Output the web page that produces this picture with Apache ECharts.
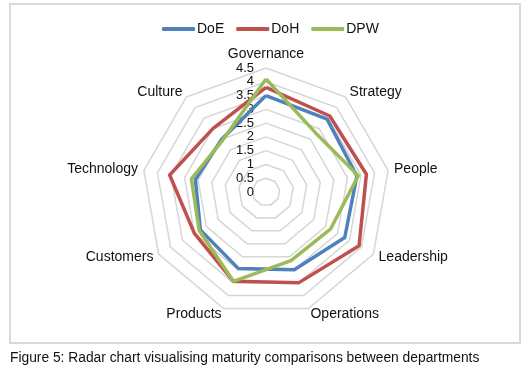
<!DOCTYPE html>
<html>
<head>
<meta charset="utf-8">
<script src="https://cdn.jsdelivr.net/npm/echarts@6/dist/echarts.min.js"></script>
<style>
  html, body { margin: 0; padding: 0; background: #fff; }
  #chart { width: 531px; height: 376px; }
</style>
</head>
<body>
<div id="chart"></div>
<script>
// values read clockwise from the top of the figure
const indicators = ["Governance", "Strategy", "People", "Leadership", "Operations", "Products", "Customers", "Technology", "Culture"];
const doe = [3.5, 3.45, 3.35, 3.3, 3.0, 2.95, 2.75, 2.6, 2.5];
const doh = [3.8, 3.6, 3.7, 3.9, 3.5, 3.45, 3.0, 3.55, 3.0];
const dpw = [4.1, 2.8, 3.4, 2.7, 2.65, 3.45, 2.8, 2.75, 2.45];
const seriesNames = ["DoE", "DoH", "DPW"];
const colors = ["#4f81bd", "#c0504d", "#9bbb59"];
const axisMax = 4.5;
const caption = "Figure 5: Radar chart visualising maturity comparisons between departments";

const font = 'Arial, "Liberation Sans", sans-serif';

// echarts places radar axes counter-clockwise, the figure runs clockwise
const ccw = arr => [arr[0]].concat(arr.slice(1).reverse());

const chart = echarts.init(document.getElementById("chart"));

chart.setOption({
  backgroundColor: "#fff",
  animation: false,
  title: {
    text: caption,
    left: 10,
    top: 351,
    padding: 0,
    textStyle: { fontFamily: font, fontSize: 13.8, fontWeight: "normal", color: "#111" },
  },
  graphic: [{
    type: "rect",
    shape: { x: 10, y: 4, width: 510, height: 339 },
    style: { fill: "none", stroke: "#d9d9d9", lineWidth: 2 },
    silent: true,
  }],
  legend: {
    data: seriesNames,
    top: 17,
    left: 157,
    icon: "roundRect",
    itemWidth: 33,
    itemHeight: 4,
    itemGap: 12,
    textStyle: { fontFamily: font, fontSize: 14, color: "#111", padding: [0, 0, 0, -3] },
  },
  radar: {
    center: [266, 192],
    radius: 124,
    startAngle: 90,
    shape: "polygon",
    splitNumber: 9,
    nameGap: 6,
    axisName: { fontFamily: font, fontSize: 14, color: "#111" },
    axisLine: { show: false },
    axisTick: { show: false },
    axisLabel: { show: false },
    splitArea: { show: false },
    splitLine: { lineStyle: { color: "#d6d6d6", width: 1.5 } },
    indicator: ccw(indicators).map((name, i) => ({
      name: name,
      min: 0,
      max: axisMax,
      axisLabel: i === 0
        ? { show: true, margin: 12, fontFamily: font, fontSize: 13, color: "#111", showMinLabel: true, showMaxLabel: true, hideOverlap: false }
        : { show: false },
    })),
  },
  series: [{
    type: "radar",
    symbol: "none",
    data: [doe, doh, dpw].map((vals, i) => ({
      name: seriesNames[i],
      value: ccw(vals),
      itemStyle: { color: colors[i] },
      lineStyle: { color: colors[i], width: 3.5 },
    })),
  }],
});
</script>
</body>
</html>
